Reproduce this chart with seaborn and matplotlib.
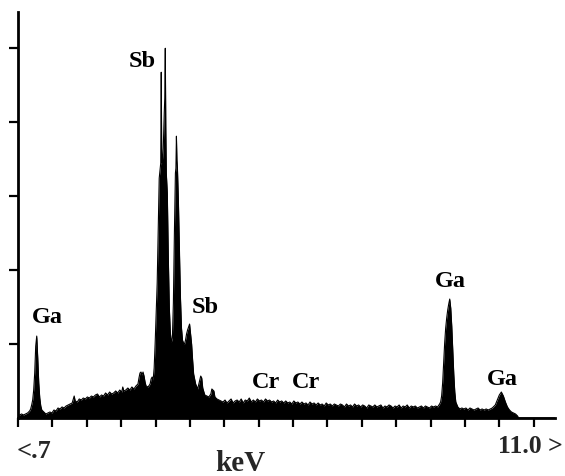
import matplotlib
matplotlib.use("Agg")
import matplotlib.pyplot as plt
import seaborn as sns
import pandas as pd
import numpy as np

# EDS spectrum, low-energy part: Ga L line and the Sb L family
low_kev = [
    0.72, 0.76, 0.80, 0.84, 0.88, 0.92, 0.96, 0.98, 1.00, 1.02, 1.04, 1.06,
    1.08, 1.10, 1.12, 1.14, 1.16, 1.18, 1.20, 1.24, 1.28, 1.32, 1.36, 1.40,
    1.44, 1.48, 1.52, 1.56, 1.60, 1.64, 1.68, 1.72, 1.76, 1.80, 1.84, 1.86,
    1.90, 1.94, 1.98, 2.02, 2.06, 2.10, 2.14, 2.18, 2.22, 2.26, 2.30, 2.34,
    2.38, 2.42, 2.46, 2.50, 2.54, 2.58, 2.62, 2.66, 2.70, 2.74, 2.78, 2.80,
    2.82, 2.86, 2.90, 2.94, 2.98, 3.02, 3.06, 3.10, 3.12, 3.14, 3.16, 3.18,
    3.20, 3.22, 3.24, 3.26, 3.30, 3.34, 3.36, 3.38, 3.40, 3.42, 3.44, 3.46,
    3.48, 3.50, 3.52, 3.54, 3.55, 3.56, 3.57, 3.58, 3.60, 3.62, 3.63, 3.64,
    3.65, 3.66, 3.68, 3.70, 3.72, 3.74, 3.76, 3.78, 3.80, 3.82, 3.84, 3.85,
    3.86, 3.87, 3.88, 3.90, 3.92, 3.94, 3.96, 3.98, 4.00, 4.02, 4.04, 4.06,
    4.08, 4.10, 4.12, 4.14, 4.16, 4.18, 4.20, 4.24, 4.28, 4.32, 4.34, 4.36,
    4.38, 4.42, 4.46, 4.50, 4.54, 4.56, 4.58, 4.60, 4.62, 4.66, 4.70, 4.74,
]
low_counts = [
    27, 41, 54, 41, 54, 68, 95, 122, 176, 243, 378, 608,
    972, 1107, 810, 473, 270, 162, 108, 81, 54, 68, 81, 68,
    108, 95, 135, 122, 149, 135, 162, 176, 189, 203, 297, 230,
    216, 257, 243, 270, 257, 284, 270, 297, 284, 311, 324, 284,
    311, 297, 338, 311, 351, 324, 338, 365, 338, 378, 351, 419,
    365, 378, 405, 378, 419, 392, 432, 459, 540, 608, 621, 581,
    621, 567, 486, 432, 419, 459, 527, 554, 513, 675, 1013, 1418,
    1823, 2498, 3240, 3375, 3443, 4671, 3483, 3443, 3645, 4131, 4320, 4995,
    3915, 3308, 3038, 2160, 1485, 1148, 1026, 1080, 1553, 2498, 3308, 3375,
    3807, 3483, 3375, 2903, 2228, 1620, 1215, 1053, 1013, 999, 1053, 1134,
    1188, 1229, 1269, 1134, 999, 783, 594, 459, 392, 513, 567, 540,
    405, 311, 297, 284, 324, 392, 378, 365, 284, 257, 243, 230,
]

# Continuum between the Sb and Ga K lines (Cr K region)
mid_kev = [
    4.78, 4.82, 4.86, 4.90, 4.94, 4.98, 5.02, 5.06, 5.10, 5.14, 5.18, 5.22,
    5.26, 5.30, 5.34, 5.38, 5.42, 5.46, 5.50, 5.54, 5.58, 5.62, 5.66, 5.70,
    5.74, 5.78, 5.82, 5.86, 5.90, 5.94, 5.98, 6.02, 6.06, 6.10, 6.14, 6.18,
    6.22, 6.26, 6.30, 6.34, 6.38, 6.42, 6.46, 6.50, 6.54, 6.58, 6.62, 6.66,
    6.70, 6.74, 6.78, 6.82, 6.86, 6.90, 6.94, 6.98, 7.02, 7.06, 7.10, 7.14,
    7.18, 7.22, 7.26, 7.30, 7.34, 7.38, 7.42, 7.46, 7.50, 7.54, 7.58, 7.62,
    7.66, 7.70, 7.74, 7.78, 7.82, 7.86, 7.90, 7.94, 7.98, 8.02, 8.06, 8.10,
    8.14, 8.18, 8.22, 8.26, 8.30, 8.34, 8.38, 8.42, 8.46, 8.50, 8.54, 8.58,
    8.62, 8.66, 8.70, 8.74, 8.78, 8.82, 8.86, 8.90, 8.94, 8.98, 9.02,
]
mid_counts = [
    216, 243, 203, 230, 257, 203, 230, 243, 216, 257, 203, 243,
    230, 270, 216, 243, 216, 257, 230, 243, 216, 257, 230, 243,
    216, 230, 203, 243, 216, 230, 203, 230, 203, 216, 189, 230,
    203, 216, 189, 216, 189, 203, 176, 216, 189, 203, 176, 203,
    176, 189, 162, 203, 176, 189, 162, 189, 176, 162, 189, 176,
    149, 189, 162, 176, 149, 189, 162, 176, 149, 176, 162, 135,
    176, 162, 149, 176, 149, 162, 176, 135, 162, 149, 176, 162,
    135, 162, 149, 176, 135, 162, 149, 176, 135, 162, 149, 162,
    135, 149, 162, 135, 162, 149, 135, 162, 149, 162, 149,
]

# Ga K-alpha and K-beta lines
high_kev = [
    9.06, 9.08, 9.10, 9.12, 9.14, 9.16, 9.18, 9.20, 9.22, 9.24, 9.26, 9.28,
    9.30, 9.32, 9.34, 9.36, 9.38, 9.42, 9.46, 9.50, 9.54, 9.58, 9.62, 9.66,
    9.70, 9.74, 9.78, 9.82, 9.86, 9.90, 9.94, 9.98, 10.02, 10.06, 10.10,
    10.16, 10.20, 10.24, 10.28, 10.32, 10.36, 10.40, 10.44, 10.48, 10.52,
    10.56, 10.60, 10.62, 11.34,
]
high_counts = [
    189, 216, 297, 473, 743, 1013, 1215, 1350, 1458, 1539, 1607, 1485,
    1242, 918, 594, 351, 216, 149, 122, 135, 122, 135, 108, 135,
    122, 108, 122, 135, 108, 122, 108, 122, 108, 122, 135,
    176, 243, 311, 351, 297, 216, 149, 108, 81, 68,
    54, 27, 0, 0,
]

# Peak identifications
peak_names = ["Ga", "Sb", "Sb", "Cr", "Cr", "Ga", "Ga"]
peak_label_kev = [1.317, 3.191, 4.434, 5.637, 6.426, 9.266, 10.292]
peak_label_counts = [1297, 4756, 1432, 419, 419, 1783, 459]

axis_low_label = "<.7"
axis_high_label = "11.0 >"
axis_title = "keV"

spectrum = pd.DataFrame({
    "energy": low_kev + mid_kev + high_kev,
    "counts": low_counts + mid_counts + high_counts,
})

sns.set_style("white")
plt.rcParams["font.family"] = ["Liberation Serif", "DejaVu Serif"]

fig = plt.figure(figsize=(5.65, 4.77), dpi=100)
ax = fig.add_axes([17.5 / 565, 58 / 477, (555 - 17.5) / 565, 406 / 477])

sns.lineplot(data=spectrum, x="energy", y="counts", ax=ax,
             color="black", linewidth=0.8, estimator=None, sort=False)
ax.fill_between(spectrum["energy"], spectrum["counts"], 0,
                color="black", linewidth=0)

ax.set_xlim(0.72, 11.34)
ax.set_ylim(0, 5485)
ax.set_xticks(np.linspace(0.73, 10.92, 16))
ax.set_yticks([1000, 2000, 3000, 4000, 5000])
ax.set_xticklabels([])
ax.set_yticklabels([])
ax.set_xlabel("")
ax.set_ylabel("")

for side in ("top", "right"):
    ax.spines[side].set_visible(False)
for side in ("left", "bottom"):
    ax.spines[side].set_color("black")
    ax.spines[side].set_linewidth(2.0)
ax.tick_params(axis="both", direction="out", length=6.5, width=1.6,
               color="black", bottom=True, left=True)

for name, ex, cy in zip(peak_names, peak_label_kev, peak_label_counts):
    ax.text(ex, cy, name, ha="center", va="baseline", fontsize=17.5,
            fontweight="bold", color="black")

fig.text(17 / 565, (477 - 458) / 477, axis_low_label, ha="left",
         va="baseline", fontsize=19, fontweight="bold")
fig.text(563 / 565, (477 - 453) / 477, axis_high_label, ha="right",
         va="baseline", fontsize=18.5, fontweight="bold")
fig.text(240 / 565, (477 - 471) / 477, axis_title, ha="center",
         va="baseline", fontsize=21, fontweight="bold")

fig.savefig("out.png", dpi=100, facecolor="white")
